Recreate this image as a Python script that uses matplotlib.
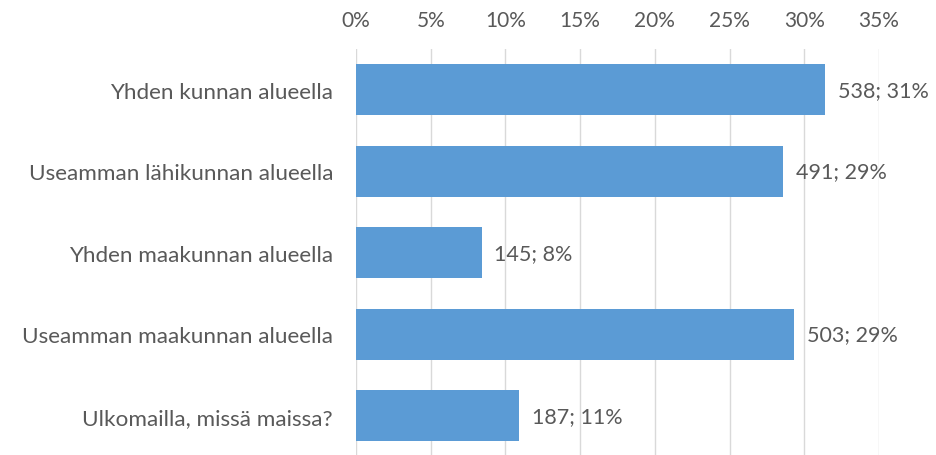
import matplotlib.pyplot as plt
from matplotlib.ticker import PercentFormatter

categories = ["Yhden kunnan alueella", "Useamman lähikunnan alueella",
              "Yhden maakunnan alueella", "Useamman maakunnan alueella",
              "Ulkomailla, missä maissa?"]
counts = [538, 491, 145, 503, 187]
percents = [31.4, 28.6, 8.4, 29.3, 10.9]
labels = ["538; 31%", "491; 29%", "145; 8%", "503; 29%", "187; 11%"]
ticks = [0, 5, 10, 15, 20, 25, 30, 35]

plt.rcParams['font.family'] = ['Lato', 'DejaVu Sans']
text_col = '#595959'

fig = plt.figure(figsize=(9.37, 4.56), dpi=100)
ax = fig.add_axes([356 / 937, 0, (879 - 356) / 937, 406 / 456])

y = list(range(len(categories)))
ax.barh(y, percents, height=0.62, color='#5B9BD5', zorder=3)
for yi, p, lab in zip(y, percents, labels):
    ax.text(p + 0.85, yi, lab, va='center', ha='left', fontsize=15.5, color=text_col)

ax.set_xlim(0, 35)
ax.set_ylim(-0.5 + 406 / 81.5, -0.5)
ax.set_xticks(ticks)
ax.xaxis.set_major_formatter(PercentFormatter(decimals=0))
ax.xaxis.tick_top()
ax.tick_params(axis='x', length=0, pad=14, labelsize=15, labelcolor=text_col)
ax.set_yticks(y)
ax.set_yticklabels(categories)
ax.tick_params(axis='y', length=0, pad=16.5, labelsize=16.2, labelcolor=text_col)
ax.grid(axis='x', color='#D9D9D9', linewidth=1, zorder=0)
for s in ax.spines.values():
    s.set_visible(False)

fig.savefig('out.png', dpi=100)
